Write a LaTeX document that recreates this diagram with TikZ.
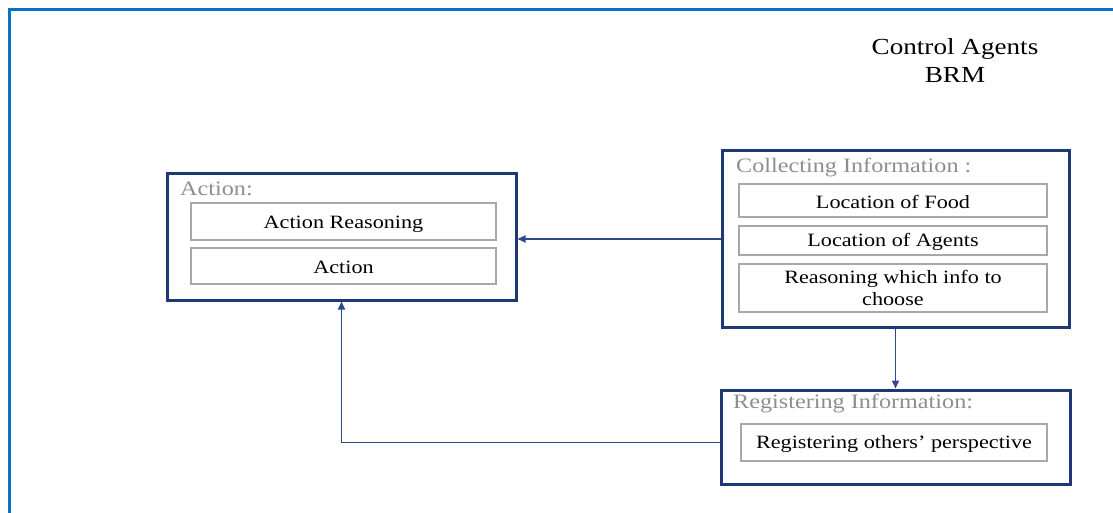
\documentclass[tikz,border=0pt]{standalone}
\usepackage{fontspec}
\setmainfont[FakeStretch=1.18]{Liberation Serif}
\usetikzlibrary{arrows.meta}
\definecolor{frameblue}{HTML}{0A72C4}
\definecolor{navy}{HTML}{1D3873}
\definecolor{linkblue}{HTML}{2C4A88}
\definecolor{boxgray}{HTML}{A8A8A8}
\definecolor{labelgray}{HTML}{8E8E8E}
\newcommand{\lowered}[2]{\raisebox{-#1}[\height][\depth]{#2}}
\tikzset{
  outerbox/.style={draw=navy, line width=3pt, inner sep=0pt},
  innerbox/.style={draw=boxgray, line width=2.2pt, inner sep=0pt, align=center,
    font=\fontsize{18.8}{22}\selectfont, text=black},
  grouplabel/.style={anchor=base west, inner sep=0pt, text=labelgray,
    font=\fontsize{20.5}{24}\selectfont},
  link/.style={draw=linkblue, line width=1.7pt, -{Triangle[length=8pt,width=7pt]}}
}
\begin{document}
\begin{tikzpicture}[x=1pt,y=-1pt]
  \useasboundingbox (0,0) rectangle (1113,513);
  % page frame
  \draw[frameblue, line width=3pt] (9.5,520) -- (9.5,9.5) -- (1120,9.5);

  % title (anchored on the baseline of its last line)
  \node[align=center, inner sep=0pt, anchor=base, font=\fontsize{23}{28}\selectfont] (title) at (955,83)
    {Control Agents\\BRM};

  % action group
  \node[outerbox, minimum width=349pt, minimum height=126pt] (act) at (341.5,237) {};
  \node[grouplabel] (actlbl) at (180,196) {Action:};
  \node[innerbox, minimum width=305pt, minimum height=37pt] (areason) at (343.5,221.5) {\lowered{2.5pt}{Action Reasoning}};
  \node[innerbox, minimum width=305pt, minimum height=36pt] (aact) at (343.5,266) {\lowered{1pt}{Action}};

  % collecting information group
  \node[outerbox, minimum width=347pt, minimum height=176pt] (coll) at (895.5,239) {};
  \node[grouplabel] (colllbl) at (736,173) {Collecting Information :};
  \node[innerbox, minimum width=308pt, minimum height=33pt] (food) at (893,200.5) {\lowered{1pt}{Location of Food}};
  \node[innerbox, minimum width=308pt, minimum height=29pt] (agents) at (893,240.5) {\lowered{1.5pt}{Location of Agents}};
  \node[innerbox, minimum width=308pt, minimum height=48pt] (choose) at (893,288) {Reasoning which info to\\choose};

  % registering information group
  \node[outerbox, minimum width=349pt, minimum height=94pt] (reg) at (895.5,437) {};
  \node[grouplabel] (reglbl) at (733,408) {Registering Information:};
  \node[innerbox, minimum width=306pt, minimum height=37pt] (others) at (894,442.5) {\lowered{1.5pt}{Registering others’ perspective}};

  % connectors
  \draw[link] (coll.west) -- (coll.west -| act.east);
  \draw[link] (coll.south) -- (reg.north);
  \draw[link] (reg.west |- others) -| (act.south);
\end{tikzpicture}
\end{document}
